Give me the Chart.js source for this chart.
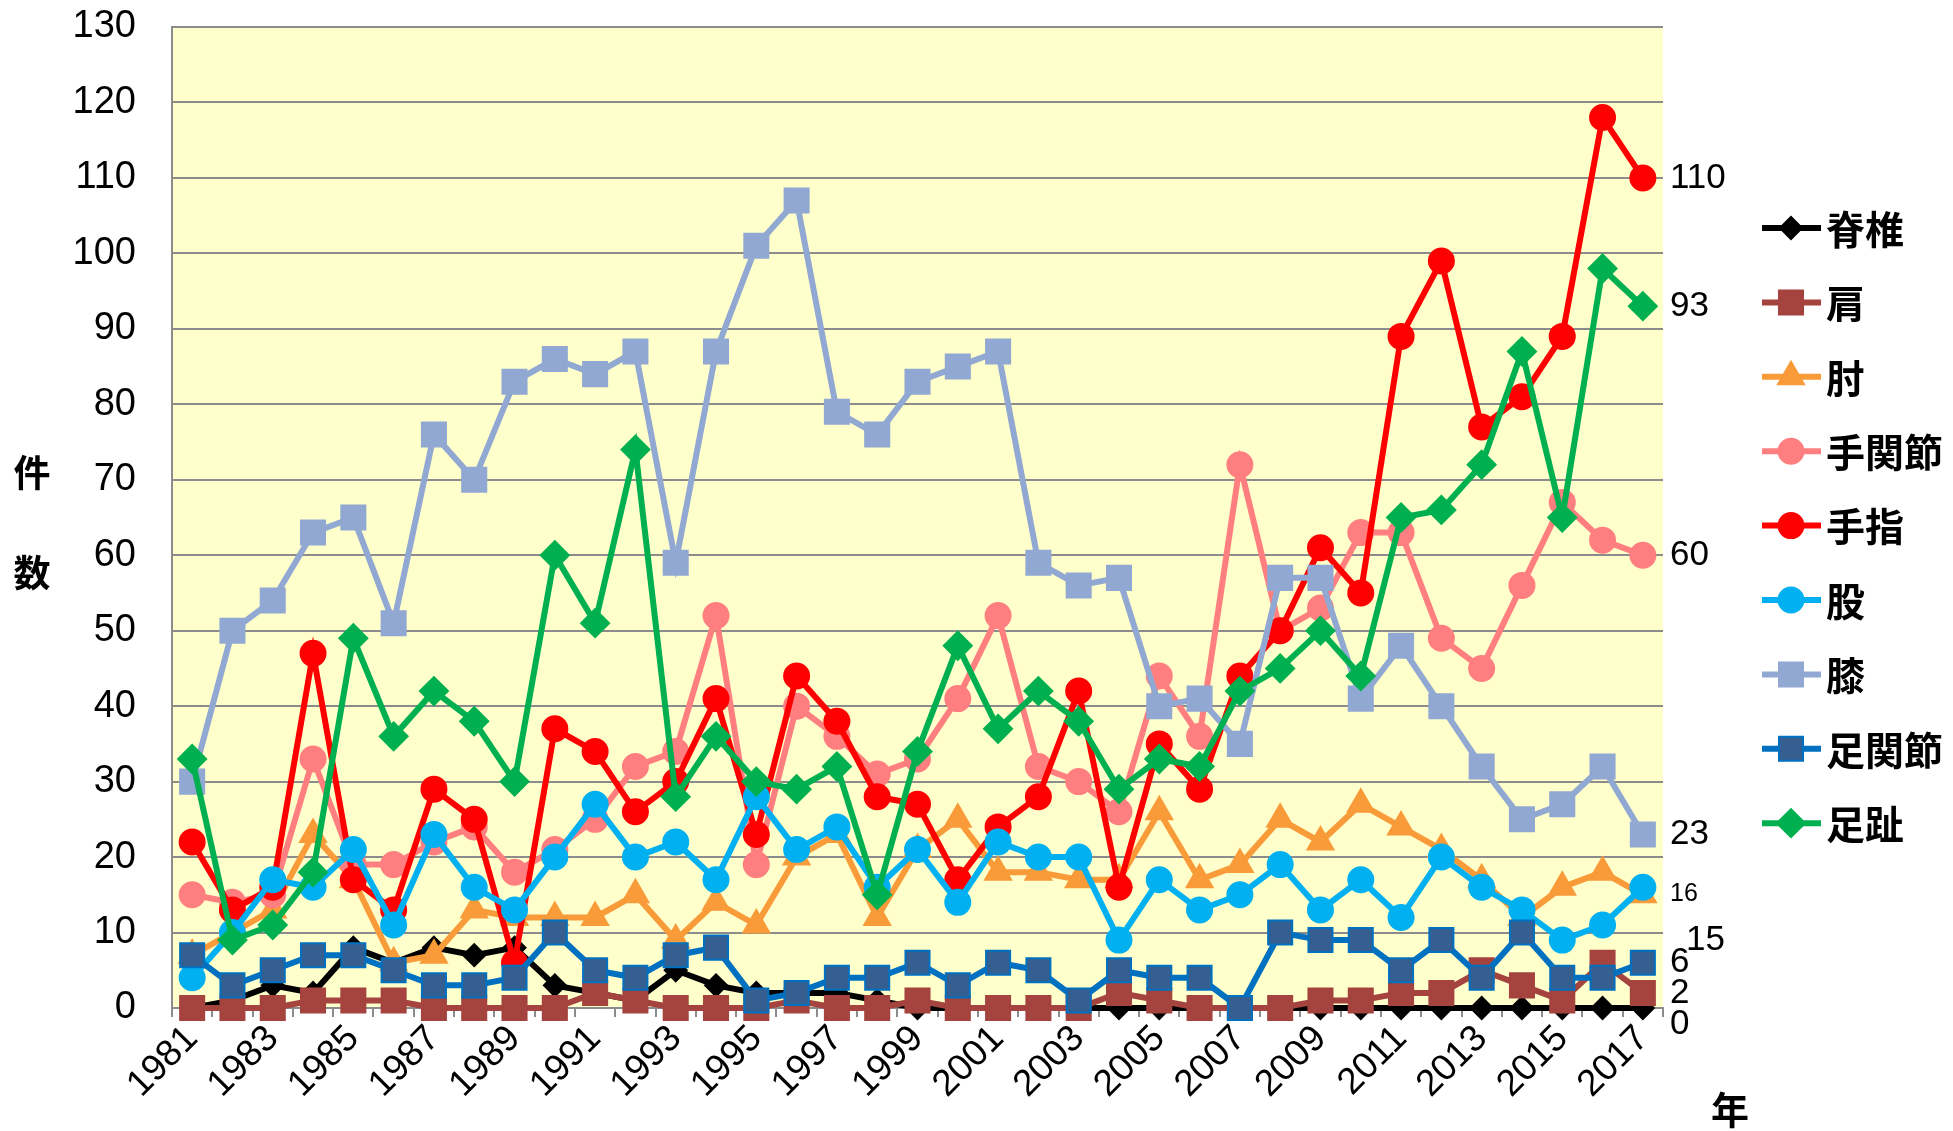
<!DOCTYPE html>
<html>
<head>
<meta charset="utf-8">
<script src="https://cdn.jsdelivr.net/npm/chart.js"></script>
<style>
  html, body { margin: 0; padding: 0; background: #fff; }
</style>
</head>
<body>
<canvas id="grafico" width="1953" height="1131"></canvas>
<script>
// Años (categorías)
const years = ["1981","1982","1983","1984","1985","1986","1987","1988","1989","1990",
  "1991","1992","1993","1994","1995","1996","1997","1998","1999","2000",
  "2001","2002","2003","2004","2005","2006","2007","2008","2009","2010",
  "2011","2012","2013","2014","2015","2016","2017"];

// Series (件数 por año)
const spine    = [0,1,3,2,8,6,8,7,8,3, 2,1,5,3,2,2,2,1,0,0, 0,0,0,0,0,0,0,0,0,0, 0,0,0,0,0,0,0];
const shoulder = [0,0,0,1,1,1,0,0,0,0, 2,1,0,0,0,1,0,0,1,0, 0,0,0,2,1,0,0,0,1,1, 2,2,5,3,1,6,2];
const elbow    = [7,10,13,23,17,6,7,13,12,12, 12,15,9,14,11,20,23,12,21,25, 18,18,17,17,26,17,19,25,22,27, 24,21,17,12,16,18,15];
const wrist    = [15,14,15,33,19,19,22,24,18,21, 25,32,34,52,19,40,36,31,33,41, 52,32,30,26,44,36,72,50,53,63, 63,49,45,56,67,62,60];
const finger   = [22,13,16,47,17,13,29,25,6,37, 34,26,30,41,23,44,38,28,27,17, 24,28,42,16,35,29,44,50,61,55, 89,99,77,81,89,118,110];
const hip      = [4,10,17,16,21,11,23,16,13,20, 27,20,22,17,28,21,24,16,21,14, 22,20,20,9,17,13,15,19,13,17, 12,20,16,13,9,11,16];
const knee     = [30,50,54,63,65,51,76,70,83,86, 84,87,59,87,101,107,79,76,83,85, 87,59,56,57,40,41,35,57,57,41, 48,40,32,25,27,32,23];
const ankle    = [7,3,5,7,7,5,3,3,4,10, 5,4,7,8,1,2,4,4,6,3, 6,5,1,5,4,4,0,10,9,9, 5,9,4,10,4,4,6];
const toe      = [33,9,11,18,49,36,42,38,30,60, 51,74,28,36,30,29,32,15,34,48, 37,42,38,29,33,32,42,45,50,44, 65,66,72,87,65,98,93];

const names = ["脊椎","肩","肘","手関節","手指","股","膝","足関節","足趾"];
const series = [spine, shoulder, elbow, wrist, finger, hip, knee, ankle, toe];

// Estilos de cada serie
const estilos = [
  { line: "#000000", fill: "#000000", border: "#000000", point: "rectRot", r: 11 },
  { line: "#A5433F", fill: "#A5433F", border: "#A5433F", point: "rect", r: 17 },
  { line: "#F89B38", fill: "#F89B38", border: "#F89B38", point: "triangle", r: 15 },
  { line: "#FF7F80", fill: "#FF7F80", border: "#FF7F80", point: "circle", r: 12.5 },
  { line: "#FF0000", fill: "#FF0000", border: "#FF0000", point: "circle", r: 12.5 },
  { line: "#00B0F0", fill: "#00B0F0", border: "#00B0F0", point: "circle", r: 12.5 },
  { line: "#91A8D2", fill: "#91A8D2", border: "#91A8D2", point: "rect", r: 17 },
  { line: "#0070C0", fill: "#355F91", border: "#0070C0", point: "rect", r: 17 },
  { line: "#00B050", fill: "#00B050", border: "#00B050", point: "rectRot", r: 14 }
];

// Desplazamiento de las etiquetas finales
const finales = [
  { dx: 0, dy: 16, size: 35 },
  { dx: 0, dy: 0, size: 35 },
  { dx: 16, dy: 46, size: 35 },
  { dx: 0, dy: 0, size: 35 },
  { dx: 0, dy: 0, size: 35 },
  { dx: 0, dy: 7, size: 25 },
  { dx: 0, dy: 0, size: 35 },
  { dx: 0, dy: 0, size: 35 },
  { dx: 0, dy: 0, size: 35 }
];

Chart.defaults.font.family = '"Liberation Sans", Arial, sans-serif';
Chart.defaults.color = "#000";

function marca(ctx, est, x, y) {
  const r = est.r;
  ctx.beginPath();
  if (est.point === "circle") {
    ctx.arc(x, y, r, 0, Math.PI * 2);
  } else if (est.point === "rect") {
    const s = r * Math.SQRT1_2;
    ctx.rect(x - s, y - s, 2 * s, 2 * s);
  } else if (est.point === "rectRot") {
    ctx.moveTo(x - r, y); ctx.lineTo(x, y - r); ctx.lineTo(x + r, y); ctx.lineTo(x, y + r);
    ctx.closePath();
  } else if (est.point === "triangle") {
    for (let k = 0; k < 3; k++) {
      const a = -Math.PI / 2 + k * 2 * Math.PI / 3;
      if (k === 0) ctx.moveTo(x + Math.cos(a) * r, y + Math.sin(a) * r);
      else ctx.lineTo(x + Math.cos(a) * r, y + Math.sin(a) * r);
    }
    ctx.closePath();
  }
  ctx.fillStyle = est.fill;
  ctx.fill();
  ctx.lineWidth = 2;
  ctx.strokeStyle = est.border;
  ctx.stroke();
}

// Fondo amarillo del área de trazado
const fondo = {
  id: "fondo",
  beforeDraw(chart) {
    const { ctx, chartArea: a } = chart;
    ctx.save();
    ctx.fillStyle = "#FFFFCC";
    ctx.fillRect(a.left, a.top, a.right - a.left, a.bottom - a.top);
    ctx.restore();
  }
};

// Títulos, leyenda y etiquetas finales
const textos = {
  id: "textos",
  afterDraw(chart) {
    const { ctx, chartArea: a } = chart;
    ctx.save();
    ctx.fillStyle = "#000";
    ctx.textBaseline = "middle";

    // etiquetas del último año
    chart.data.datasets.forEach((ds, i) => {
      const meta = chart.getDatasetMeta(i);
      const pt = meta.data[meta.data.length - 1];
      const f = finales[i];
      ctx.font = f.size + 'px "Liberation Sans", Arial, sans-serif';
      ctx.textAlign = "left";
      ctx.fillStyle = "#000";
      ctx.fillText(String(ds.data[ds.data.length - 1]), a.right + 7 + f.dx, pt.y + f.dy);
    });

    // títulos de ejes
    ctx.font = 'bold 37px "Noto Sans CJK JP", sans-serif';
    ctx.textAlign = "center";
    ctx.fillStyle = "#000";
    ctx.fillText("件", 32, 473);
    ctx.fillText("数", 32, 573);
    ctx.font = 'bold 38px "Noto Sans CJK JP", sans-serif';
    ctx.fillText("年", 1730, 1110);

    // leyenda
    names.forEach((n, i) => {
      const y = 228 + i * 74.4;
      const est = estilos[i];
      ctx.strokeStyle = est.line;
      ctx.lineWidth = 6;
      ctx.beginPath();
      ctx.moveTo(1762, y);
      ctx.lineTo(1821, y);
      ctx.stroke();
      marca(ctx, est, 1791, y);
      ctx.fillStyle = "#000";
      ctx.textAlign = "left";
      ctx.font = 'bold 39px "Noto Sans CJK JP", sans-serif';
      ctx.fillText(n, 1826, y + 1);
    });
    ctx.restore();
  }
};

const datasets = series.map((d, i) => ({
  label: names[i],
  data: d,
  borderColor: estilos[i].line,
  backgroundColor: estilos[i].fill,
  borderWidth: 6,
  tension: 0,
  pointStyle: estilos[i].point,
  pointRadius: estilos[i].r,
  pointBackgroundColor: estilos[i].fill,
  pointBorderColor: estilos[i].border,
  pointBorderWidth: 2,
  clip: false,
  order: series.length - i
}));

new Chart(document.getElementById("grafico"), {
  type: "line",
  data: { labels: years, datasets: datasets },
  options: {
    responsive: false,
    animation: false,
    layout: { padding: { left: 0, top: 27, right: 290, bottom: 0 } },
    plugins: { legend: { display: false }, tooltip: { enabled: false } },
    scales: {
      x: {
        offset: true,
        grid: { drawOnChartArea: false, drawTicks: true, tickLength: 9, color: "#8c8c8c", lineWidth: 2, offset: true },
        border: { color: "#8c8c8c", width: 2 },
        ticks: {
          autoSkip: false,
          maxRotation: 45,
          minRotation: 45,
          padding: 0,
          font: { size: 37 },
          color: "#000",
          callback(v, i) { return i % 2 === 0 ? this.getLabelForValue(v) : ""; }
        },
        afterFit(scale) { scale.height = 123; }
      },
      y: {
        min: 0,
        max: 130,
        ticks: { stepSize: 10, font: { size: 38 }, color: "#000", padding: 36 },
        grid: { color: "#8c8c8c", lineWidth: 2, drawTicks: false },
        border: { color: "#8c8c8c", width: 2 },
        afterFit(scale) {
          scale.width = 172;
          scale.paddingTop = 0;
          scale.paddingBottom = 0;
        }
      }
    }
  },
  plugins: [fondo, textos]
});
</script>
</body>
</html>
